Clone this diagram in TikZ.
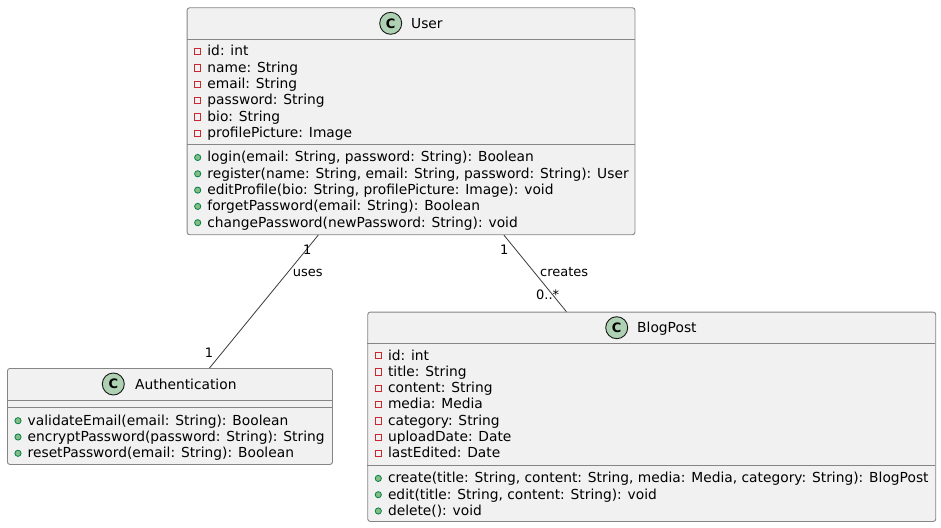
\documentclass[tikz,border=0pt]{standalone}
\usepackage{fontspec}
\setmainfont{DejaVu Sans}
\definecolor{linec}{HTML}{181818}
\definecolor{boxline}{HTML}{858585}
\definecolor{boxfill}{HTML}{F1F1F1}
\definecolor{badgefill}{HTML}{ADD1B2}
\definecolor{privred}{HTML}{C82930}
\definecolor{pubgreen}{HTML}{038048}
\definecolor{pubfill}{HTML}{84BE84}
\tikzset{
 box/.style={draw=boxline, fill=boxfill, line width=0.9pt, rounded corners=2.5pt, inner sep=0pt, anchor=north west},
 sepline/.style={draw=boxline, line width=0.9pt},
 member/.style={anchor=base west, inner sep=0pt, font=\fontsize{13.8pt}{16.3pt}\selectfont, text=black},
 badge/.style={circle, draw=linec, fill=badgefill, line width=0.9pt, minimum size=22pt, inner sep=0pt, font=\fontsize{13pt}{13pt}\selectfont\bfseries},
 privst/.style={draw=privred, line width=0.9pt},
 pubst/.style={draw=pubgreen, fill=pubfill, line width=0.8pt},
 assoc/.style={draw=linec!85, line width=0.8pt},
 lbl/.style={inner sep=0pt, font=\fontsize{13pt}{15pt}\selectfont, text=black}
}
\newcommand\privmark[2]{\draw[privst] (#1-3.1,#2-3.1) rectangle (#1+3.1,#2+3.1);}
\newcommand\pubmark[2]{\draw[pubst] (#1,#2) circle[radius=3.1pt];}
\newcommand\memberlines[5]{%
  \foreach \t [count=\i, evaluate=\i as \yy using #3+16.3*(\i-1)] in {#5} {
    \node[member, name=#1\i] at (#2+20.5,\yy) {\t};
    #4{#2+11}{\yy-4.3}
  }}
\begin{document}
\begin{tikzpicture}[x=1pt,y=-1pt]
\useasboundingbox (0,0) rectangle (941,527);
% boxes
\node[box, minimum width=447.8pt, minimum height=227pt] (user) at (186.7,7.3) {};
\node[box, minimum width=325pt, minimum height=96pt] (auth) at (7,368) {};
\node[box, minimum width=568pt, minimum height=209.3pt] (post) at (367.3,311.7) {};
% connectors
\draw[assoc] (user) -- (auth);
\draw[assoc] (user) -- (post);
% User
\node[badge] (userc) at (390.7,23.3) {C};
\node[member] (usert) at (411,28.4) {User};
\draw[sepline] (186.7,39.3) -- (634.5,39.3);
\draw[sepline] (186.7,144) -- (634.5,144);
\memberlines{ua}{186.7}{56}{\privmark}{{id: int},{name: String},{email: String},{password: String},{bio: String},{profilePicture: Image}}
\memberlines{um}{186.7}{161.8}{\pubmark}{{login(email: String, password: String): Boolean},{register(name: String, email: String, password: String): User},{editProfile(bio: String, profilePicture: Image): void},{forgetPassword(email: String): Boolean},{changePassword(newPassword: String): void}}
% Authentication
\node[badge] (authc) at (113.3,384) {C};
\node[member] (autht) at (135,389.1) {Authentication};
\draw[sepline] (7,400) -- (332,400);
\draw[sepline] (7,407) -- (332,407);
\memberlines{am}{7}{425}{\pubmark}{{validateEmail(email: String): Boolean},{encryptPassword(password: String): String},{resetPassword(email: String): Boolean}}
% BlogPost
\node[badge] (postc) at (616.7,327.7) {C};
\node[member] (postt) at (637,332.8) {BlogPost};
\draw[sepline] (367.3,343.3) -- (935.3,343.3);
\draw[sepline] (367.3,465) -- (935.3,465);
\memberlines{pa}{367.3}{360}{\privmark}{{id: int},{title: String},{content: String},{media: Media},{category: String},{uploadDate: Date},{lastEdited: Date}}
\memberlines{pm}{367.3}{482.7}{\pubmark}{{create(title: String, content: String, media: Media, category: String): BlogPost},{edit(title: String, content: String): void},{delete(): void}}
% labels
\node[lbl, anchor=base] (l1) at (307.3,254.5) {1};
\node[lbl, anchor=base west] (l2) at (292.7,276.5) {uses};
\node[lbl, anchor=base] (l3) at (209,357.3) {1};
\node[lbl, anchor=base] (l4) at (504.3,254.5) {1};
\node[lbl, anchor=base west] (l5) at (540,276.5) {creates};
\node[lbl, anchor=base west] (l6) at (536,299) {0..*};
\end{tikzpicture}
\end{document}
